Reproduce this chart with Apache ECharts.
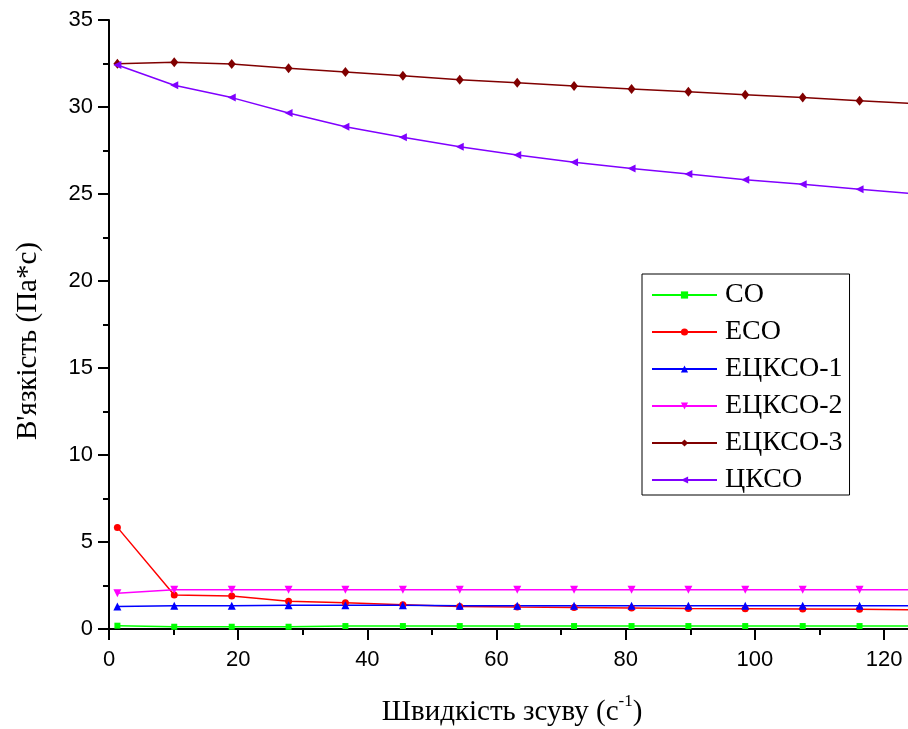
<!DOCTYPE html>
<html>
<head>
<meta charset="utf-8">
<script src="https://cdn.jsdelivr.net/npm/echarts@6/dist/echarts.min.js"></script>
<style>
  html, body { margin: 0; padding: 0; background: #fff; }
  #chart { width: 908px; height: 729px; }
</style>
</head>
<body>
<div id="chart"></div>
<script>
// Shear rate (1/s)
const shearRate = [1.3, 10.1, 19.0, 27.8, 36.6, 45.5, 54.3, 63.2, 72.0, 80.9, 89.7, 98.5, 107.4, 116.2, 125.1];
// Viscosity (Pa*s)
const CO     = [0.19, 0.13, 0.13, 0.13, 0.17, 0.17, 0.17, 0.17, 0.17, 0.17, 0.17, 0.17, 0.17, 0.17, 0.17];
const ECO    = [5.84, 1.95, 1.89, 1.59, 1.51, 1.40, 1.30, 1.26, 1.24, 1.21, 1.18, 1.17, 1.15, 1.13, 1.11];
const ECKSO1 = [1.30, 1.34, 1.34, 1.36, 1.36, 1.36, 1.34, 1.34, 1.34, 1.34, 1.34, 1.34, 1.34, 1.34, 1.34];
const ECKSO2 = [2.05, 2.26, 2.26, 2.26, 2.26, 2.26, 2.26, 2.26, 2.26, 2.26, 2.26, 2.26, 2.26, 2.26, 2.26];
const ECKSO3 = [32.49, 32.57, 32.47, 32.22, 32.01, 31.80, 31.57, 31.40, 31.21, 31.03, 30.88, 30.71, 30.54, 30.36, 30.19];
const CKSO   = [32.41, 31.25, 30.54, 29.66, 28.87, 28.26, 27.72, 27.24, 26.82, 26.46, 26.15, 25.82, 25.56, 25.27, 25.00];

const seriesNames = ['СО', 'ЕСО', 'ЕЦКСО-1', 'ЕЦКСО-2', 'ЕЦКСО-3', 'ЦКСО'];
const seriesValues = [CO, ECO, ECKSO1, ECKSO2, ECKSO3, CKSO];

const xMajorTicks = [0, 20, 40, 60, 80, 100, 120];
const xMinorTicks = [10, 30, 50, 70, 90, 110];

const colors  = ['#00ff00', '#ff0000', '#0000ff', '#ff00ff', '#800000', '#8000ff'];
const symbols = ['rect', 'circle', 'triangle', 'triangle', 'diamond', 'triangle'];
const symSize = [6, 7, 8, 8, [8, 10], 8];
const symRot  = [0, 0, 0, 180, 0, 90];

const X_MAX = 123.7;

const chart = echarts.init(document.getElementById('chart'));

const series = seriesNames.map((name, k) => ({
  name: name,
  type: 'line',
  xAxisIndex: 0,
  yAxisIndex: 0,
  data: shearRate.map((x, i) => [x, seriesValues[k][i]]),
  symbol: symbols[k],
  symbolSize: symSize[k],
  symbolRotate: symRot[k],
  showAllSymbol: true,
  color: colors[k],
  lineStyle: { color: colors[k], width: 1.5 },
  itemStyle: { color: colors[k] },
  emphasis: { disabled: true },
  animation: false
}));

chart.setOption({
  animation: false,
  backgroundColor: '#ffffff',
  grid: { left: 109, right: 0, top: 20, bottom: 100, containLabel: false },
  xAxis: [
    {
      type: 'value',
      min: 0,
      max: X_MAX,
      position: 'bottom',
      axisLine: { show: true, onZero: false, lineStyle: { color: '#000', width: 2 } },
      axisTick: { show: true, customValues: xMajorTicks, length: 11, inside: false, lineStyle: { color: '#000', width: 2 } },
      axisLabel: { customValues: xMajorTicks, margin: 20, color: '#000', fontSize: 22, fontFamily: 'Liberation Sans' },
      splitLine: { show: false }
    },
    {
      type: 'value',
      min: 0,
      max: X_MAX,
      position: 'bottom',
      axisLine: { show: false },
      axisTick: { show: true, customValues: xMinorTicks, length: 6, inside: false, lineStyle: { color: '#000', width: 2 } },
      axisLabel: { show: false },
      splitLine: { show: false }
    }
  ],
  yAxis: {
    type: 'value',
    min: 0,
    max: 35,
    interval: 5,
    axisLine: { show: true, onZero: false, lineStyle: { color: '#000', width: 2 } },
    axisTick: { show: true, length: 11, inside: false, lineStyle: { color: '#000', width: 2 } },
    minorTick: { show: true, splitNumber: 2, length: 6, lineStyle: { color: '#000', width: 2 } },
    axisLabel: { margin: 16, color: '#000', fontSize: 22, fontFamily: 'Liberation Sans' },
    splitLine: { show: false }
  },
  legend: {
    orient: 'vertical',
    left: 642,
    top: 274,
    backgroundColor: '#fff',
    borderColor: '#000',
    borderWidth: 1,
    padding: [7, 7, 1, 9],
    itemWidth: 65,
    itemHeight: 9,
    itemGap: 9,
    selectedMode: false,
    textStyle: { fontFamily: 'Liberation Serif', fontSize: 28, color: '#000', lineHeight: 28, padding: [0, 0, 0, 3] },
    data: seriesNames
  },
  graphic: [
    {
      type: 'text',
      x: 28,
      y: 341,
      rotation: Math.PI / 2,
      style: {
        text: "В'язкість (Па*с)",
        font: '29px "Liberation Serif"',
        fill: '#000',
        align: 'center',
        verticalAlign: 'middle'
      }
    },
    {
      type: 'text',
      x: 512,
      y: 712,
      style: {
        text: 'Швидкість зсуву (с{sup|-1})',
        font: '29px "Liberation Serif"',
        fill: '#000',
        align: 'center',
        verticalAlign: 'middle',
        rich: {
          sup: { fontSize: 17, fontFamily: 'Liberation Serif', fill: '#000', padding: [0, 0, 20, 0] }
        }
      }
    }
  ],
  series: series
});
</script>
</body>
</html>
